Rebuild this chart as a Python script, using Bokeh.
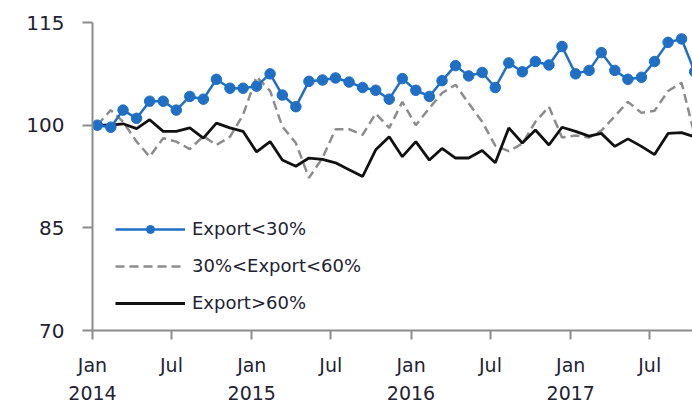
import pandas as pd
from bokeh.plotting import figure
from bokeh.models import FixedTicker, Range1d, Legend, LegendItem
from bokeh.embed import file_html
from bokeh.resources import INLINE

# monthly index values, Jan 2014 = 100
months = pd.date_range("2014-01-01", periods=46, freq="MS")
dates = months + pd.Timedelta(days=11)

export_lt30 = [100.0, 99.7, 102.2, 101.0, 103.5, 103.5, 102.2, 104.2, 103.8, 106.7,
               105.4, 105.4, 105.7, 107.5, 104.4, 102.7, 106.4, 106.6, 106.9, 106.3,
               105.5, 105.1, 103.8, 106.8, 105.1, 104.2, 106.5, 108.7, 107.2, 107.7,
               105.5, 109.1, 107.8, 109.3, 108.8, 111.5, 107.5, 108.0, 110.6, 108.0,
               106.7, 107.0, 109.3, 112.1, 112.6, 107.8]

export_30_60 = [100.0, 102.2, 100.5, 97.6, 95.4, 98.1, 97.6, 96.5, 98.4, 97.1,
                98.3, 101.5, 107.1, 105.0, 99.8, 97.4, 92.3, 95.2, 99.4, 99.4,
                98.6, 101.7, 99.6, 103.4, 100.0, 102.5, 104.7, 105.9, 103.2, 100.5,
                97.0, 96.2, 97.3, 100.5, 102.7, 98.2, 98.5, 98.2, 99.2, 101.3,
                103.4, 101.8, 102.1, 105.0, 106.2, 98.5]

export_gt60 = [100.0, 100.0, 100.2, 99.5, 100.8, 99.1, 99.1, 99.6, 98.1, 100.3,
               99.6, 99.1, 96.1, 97.6, 94.9, 94.0, 95.2, 95.0, 94.5, 93.5,
               92.5, 96.4, 98.3, 95.4, 97.6, 94.9, 96.6, 95.2, 95.2, 96.3,
               94.5, 99.6, 97.4, 99.3, 97.1, 99.7, 99.1, 98.4, 98.8, 96.9,
               98.0, 96.9, 95.7, 98.8, 98.9, 98.3]

series_labels = ["Export<30%", "30%<Export<60%", "Export>60%"]

tick_dates = pd.date_range("2014-01-01", "2017-07-01", freq="6MS")
tick_labels = ["Jan\n2014", "Jul", "Jan\n2015", "Jul", "Jan\n2016", "Jul", "Jan\n2017", "Jul"]
y_ticks = [70, 85, 100, 115]

x_start = pd.Timestamp("2014-01-01")
x_end = pd.Timestamp("2017-10-07")

FONT = "DejaVu Sans"
TXT = "#222233"

p = figure(width=692, height=409, output_backend="svg", toolbar_location=None,
           x_axis_type="datetime",
           x_range=Range1d(x_start, x_end), y_range=Range1d(70, 115),
           min_border_left=92, min_border_right=0, min_border_top=22, min_border_bottom=79)

p.xgrid.visible = False
p.ygrid.visible = False
p.outline_line_color = None
p.background_fill_color = "white"

r_mid = p.line(dates, export_30_60, line_color="#8c8c8c", line_width=2.5, line_dash="9 5")
r_hi = p.line(dates, export_gt60, line_color="#111111", line_width=2.8)
r_lo = p.line(dates, export_lt30, line_color="#1f6fc5", line_width=2.5)
r_lo_pts = p.scatter(dates, export_lt30, size=10.5, marker="circle",
                     fill_color="#1f6fc5", line_color="#1f6fc5")

legend = Legend(items=[
    LegendItem(label=series_labels[0], renderers=[r_lo, r_lo_pts]),
    LegendItem(label=series_labels[1], renderers=[r_mid]),
    LegendItem(label=series_labels[2], renderers=[r_hi]),
], location=(23, 17), padding=0, margin=0, spacing=16, glyph_width=70, glyph_height=20,
   label_height=20, label_standoff=7, border_line_color=None, background_fill_alpha=0,
   label_text_font=FONT, label_text_font_size="18px", label_text_color=TXT)
p.add_layout(legend, "center")

tick_ms = [int(t.value // 10**6) for t in tick_dates]
p.xaxis.ticker = FixedTicker(ticks=tick_ms)
p.xaxis.major_label_overrides = {ms: lab for ms, lab in zip(tick_ms, tick_labels)}
p.yaxis.ticker = FixedTicker(ticks=y_ticks)

for ax in (p.xaxis[0], p.yaxis[0]):
    ax.axis_line_color = "#8c8c8c"
    ax.axis_line_width = 2
    ax.major_tick_line_color = "#8c8c8c"
    ax.major_tick_line_width = 2
    ax.major_tick_in = 0
    ax.minor_tick_line_color = None
    ax.major_label_text_font = FONT
    ax.major_label_text_color = TXT

p.yaxis.major_label_text_font_size = "20px"
p.xaxis.major_label_text_font_size = "19px"
p.yaxis.major_tick_out = 10
p.yaxis.major_label_standoff = 18
p.xaxis.major_tick_out = 9
p.xaxis.major_label_standoff = 14
p.xaxis.major_label_text_line_height = 1.3

open("out.html", "w").write(file_html(p, INLINE))
